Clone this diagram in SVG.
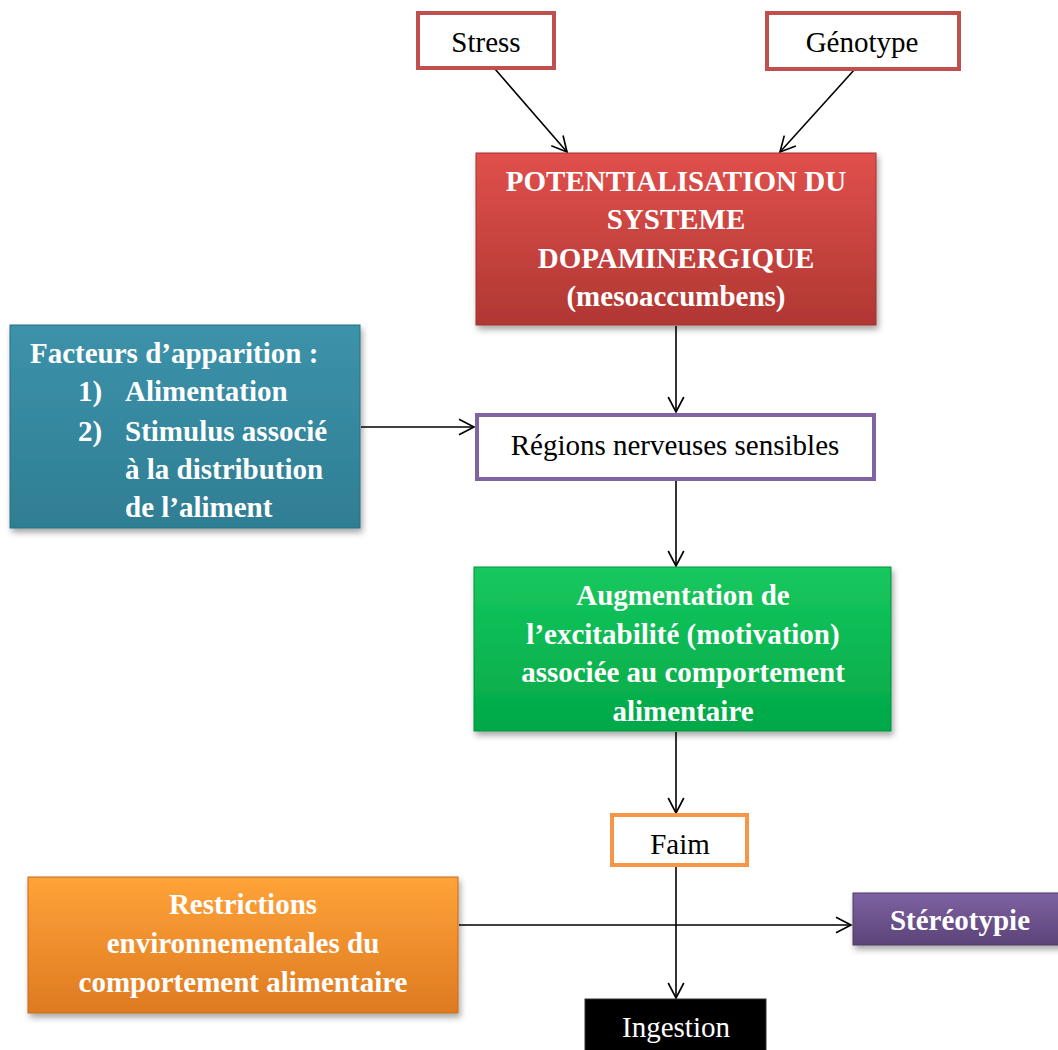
<svg xmlns="http://www.w3.org/2000/svg" width="1058" height="1050" viewBox="0 0 1058 1050">
<defs>
<style>
.t{font-family:"Liberation Serif","Times New Roman",serif;font-size:29px;fill:#000;text-anchor:middle}
.w{font-family:"Liberation Serif","Times New Roman",serif;font-size:29px;fill:#fff;font-weight:bold;text-anchor:middle}
.wl{font-family:"Liberation Serif","Times New Roman",serif;font-size:29px;fill:#fff;font-weight:bold}
.c{stroke:#000;stroke-width:1.6;fill:none;marker-end:url(#ah)}
</style>
<marker id="ah" viewBox="0 0 12 12" refX="11" refY="6" markerWidth="18" markerHeight="18" markerUnits="userSpaceOnUse" orient="auto">
<path d="M1,0.8 L11,6 L1,11.2" fill="none" stroke="#000" stroke-width="1.1"/>
</marker>
<filter id="sh" x="-10%" y="-10%" width="125%" height="130%">
<feDropShadow dx="2" dy="4" stdDeviation="3" flood-color="#000" flood-opacity="0.35"/>
</filter>
<linearGradient id="gr" x1="0" y1="0" x2="0" y2="1"><stop offset="0" stop-color="#E0504C"/><stop offset="1" stop-color="#B03733"/></linearGradient>
<linearGradient id="gt" x1="0" y1="0" x2="0" y2="1"><stop offset="0" stop-color="#3C92AA"/><stop offset="1" stop-color="#2F7E93"/></linearGradient>
<linearGradient id="gg" x1="0" y1="0" x2="0" y2="1"><stop offset="0" stop-color="#16C85E"/><stop offset="1" stop-color="#02A847"/></linearGradient>
<linearGradient id="go" x1="0" y1="0" x2="0" y2="1"><stop offset="0" stop-color="#FFA338"/><stop offset="1" stop-color="#DE7A22"/></linearGradient>
<linearGradient id="gp" x1="0" y1="0" x2="0" y2="1"><stop offset="0" stop-color="#7E62A3"/><stop offset="1" stop-color="#5B4477"/></linearGradient>
</defs>

<g id="connectors">
<line class="c" x1="495" y1="69" x2="567" y2="152"/>
<line class="c" x1="855" y1="69" x2="780" y2="152"/>
<line class="c" x1="676" y1="326" x2="676" y2="412"/>
<line class="c" x1="361" y1="427" x2="474" y2="427"/>
<line class="c" x1="676" y1="481" x2="676" y2="566"/>
<line class="c" x1="676" y1="732" x2="676" y2="813"/>
<line class="c" x1="459" y1="925" x2="851" y2="925"/>
<line class="c" x1="676" y1="867" x2="676" y2="998"/>
</g>

<g id="stress">
<rect x="418" y="13" width="136" height="55" fill="#fff" stroke="#C0504D" stroke-width="4"/>
<text class="t" x="486" y="52">Stress</text>
</g>

<g id="genotype">
<rect x="767" y="13" width="192" height="56" fill="#fff" stroke="#C0504D" stroke-width="4"/>
<text class="t" x="862" y="52">Génotype</text>
</g>

<g id="potentialisation">
<rect x="476" y="153" width="400" height="172" fill="url(#gr)" stroke="#A3312E" stroke-width="1" filter="url(#sh)"/>
<text class="w" x="676" y="191">POTENTIALISATION DU</text>
<text class="w" x="676" y="229">SYSTEME</text>
<text class="w" x="676" y="268">DOPAMINERGIQUE</text>
<text class="w" x="676" y="306">(mesoaccumbens)</text>
</g>

<g id="facteurs">
<rect x="10" y="325" width="350" height="203" fill="url(#gt)" stroke="#2A6E80" stroke-width="1" filter="url(#sh)"/>
<text class="wl" x="30" y="363">Facteurs d’apparition :</text>
<text class="wl" x="78" y="401">1)</text>
<text class="wl" x="125" y="401">Alimentation</text>
<text class="wl" x="78" y="441">2)</text>
<text class="wl" x="125" y="441">Stimulus associé</text>
<text class="wl" x="125" y="479">à la distribution</text>
<text class="wl" x="125" y="517">de l’aliment</text>
</g>

<g id="regions">
<rect x="477" y="415" width="397" height="64" fill="#fff" stroke="#8064A2" stroke-width="4"/>
<text class="t" x="675" y="455">Régions nerveuses sensibles</text>
</g>

<g id="augmentation">
<rect x="474" y="567" width="417" height="164" fill="url(#gg)" stroke="#03913D" stroke-width="1" filter="url(#sh)"/>
<text class="w" x="683" y="605">Augmentation de</text>
<text class="w" x="683" y="644">l’excitabilité (motivation)</text>
<text class="w" x="683" y="682">associée au comportement</text>
<text class="w" x="683" y="721">alimentaire</text>
</g>

<g id="faim">
<rect x="612" y="815" width="135" height="50" fill="#fff" stroke="#F79646" stroke-width="4"/>
<text class="t" x="680" y="854">Faim</text>
</g>

<g id="restrictions">
<rect x="28" y="877" width="430" height="136" fill="url(#go)" stroke="#C46A1D" stroke-width="1" filter="url(#sh)"/>
<text class="w" x="243" y="914">Restrictions</text>
<text class="w" x="243" y="953">environnementales du</text>
<text class="w" x="243" y="992">comportement alimentaire</text>
</g>

<g id="stereotypie">
<rect x="853" y="893" width="210" height="52" fill="url(#gp)" stroke="#4E3A66" stroke-width="1" filter="url(#sh)"/>
<text class="w" x="960" y="930">Stéréotypie</text>
</g>

<g id="ingestion">
<rect x="585" y="999" width="181" height="55" fill="#000" stroke="#333" stroke-width="1"/>
<text class="t" x="676" y="1037" style="fill:#fff">Ingestion</text>
</g>
</svg>
